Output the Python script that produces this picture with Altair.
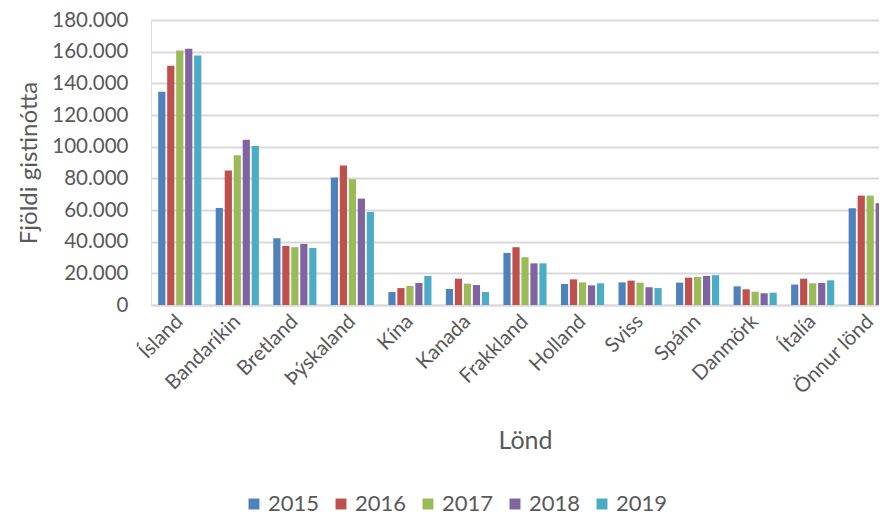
import altair as alt
import pandas as pd

countries = ["Ísland", "Bandaríkin", "Bretland", "Þýskaland", "Kína", "Kanada",
             "Frakkland", "Holland", "Sviss", "Spánn", "Danmörk", "Ítalía", "Önnur lönd"]
years = ["2015", "2016", "2017", "2018", "2019"]
v2015 = [134700, 61300, 42100, 80500, 8200, 10100, 32900, 13300, 14300, 14100, 11800, 12900, 61100]
v2016 = [151100, 84900, 37300, 88100, 10700, 16600, 36500, 16200, 15400, 17300, 9900, 16600, 69100]
v2017 = [160800, 94600, 36500, 79500, 12000, 13500, 30200, 14300, 14100, 17700, 8400, 13700, 69100]
v2018 = [161800, 104300, 38600, 67200, 13900, 12600, 26300, 12400, 11200, 18300, 7400, 13900, 64300]
v2019 = [157600, 100500, 36000, 58800, 18300, 8200, 26300, 13700, 10700, 18800, 7800, 15600, 71900]
colors = ["#4F81BD", "#C0504D", "#9BBB59", "#8064A2", "#4BACC6"]

series = [v2015, v2016, v2017, v2018, v2019]
rows = []
for y, vals in zip(years, series):
    for c, v in zip(countries, vals):
        rows.append({"Land": c, "Ár": y, "Gildi": v})
df = pd.DataFrame(rows)

FONT = "Lato"
GREY = "#595959"

chart = alt.Chart(df).mark_bar().encode(
    x=alt.X("Land:N", sort=countries,
            scale=alt.Scale(paddingInner=0.25, paddingOuter=0.125, range=[0, 748]),
            axis=alt.Axis(title="Lönd", labelAngle=-45, labelFontSize=20.5, labelColor=GREY,
                          labelFont=FONT, titleFont=FONT, titleFontSize=25, titleColor=GREY,
                          titleFontWeight="normal", ticks=False, domainColor="#D9D9D9",
                          domainWidth=2, labelPadding=6, labelOffset=-7, titlePadding=30,
                          titleX=374)),
    xOffset=alt.XOffset("Ár:N", sort=years, scale=alt.Scale(paddingInner=0.2, paddingOuter=0)),
    y=alt.Y("Gildi:Q", scale=alt.Scale(domain=[0, 180000], nice=False),
            axis=alt.Axis(title="Fjöldi gistinótta", values=list(range(0, 180001, 20000)),
                          labelExpr="replace(format(datum.value, ','), ',', '.')",
                          labelFontSize=20.5, labelColor=GREY, labelFont=FONT,
                          titleFont=FONT, titleFontSize=24, titleColor=GREY,
                          titleFontWeight="normal", domain=False, ticks=False,
                          gridColor="#D9D9D9", gridWidth=2, labelPadding=23, titlePadding=10)),
    color=alt.Color("Ár:N", sort=years, scale=alt.Scale(domain=years, range=colors),
                    legend=alt.Legend(title=None, orient="none", direction="horizontal",
                                      legendX=92, legendY=473, symbolType="square",
                                      symbolSize=120, symbolStrokeWidth=0,
                                      labelFontSize=22, labelColor=GREY, labelFont=FONT,
                                      labelOffset=3, columnPadding=10, symbolOpacity=1)),
).properties(
    width=728, height=285,
    autosize=alt.AutoSizeParams(type="none"),
    padding={"left": 143, "top": 12, "right": 0, "bottom": 212},
).configure_view(stroke=None).configure(background="white")

chart.save("out.html", embed_options={"renderer": "svg", "actions": False})
